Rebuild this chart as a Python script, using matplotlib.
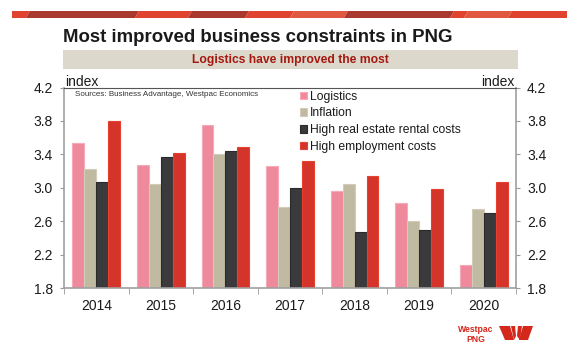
import matplotlib
matplotlib.use("Agg")
import matplotlib.pyplot as plt
from matplotlib.patches import Polygon, Rectangle
import numpy as np

plt.rcParams['font.family'] = ['Liberation Sans', 'DejaVu Sans']

years = ["2014", "2015", "2016", "2017", "2018", "2019", "2020"]
series_names = ["Logistics", "Inflation", "High real estate rental costs", "High employment costs"]
logistics = [3.53, 3.27, 3.75, 3.26, 2.96, 2.82, 2.08]
inflation = [3.22, 3.05, 3.40, 2.77, 3.05, 2.60, 2.74]
real_estate = [3.07, 3.37, 3.44, 3.00, 2.47, 2.49, 2.70]
employment = [3.80, 3.41, 3.49, 3.32, 3.14, 2.99, 3.07]
yticks = [1.8, 2.2, 2.6, 3.0, 3.4, 3.8, 4.2]

fills = ["#ef8a9c", "#c1baa2", "#3a3a3c", "#d4342a"]
edges = ["#f5aab6", "#d2ccb8", "#2a2a2c", "#e8402f"]

W, H = 580, 355
fig = plt.figure(figsize=(W / 100, H / 100), dpi=100)

# overlay in pixel coords
bg = fig.add_axes([0, 0, 1, 1], zorder=0)
bg.set_xlim(0, W)
bg.set_ylim(H, 0)
bg.axis("off")

# top stripe segments (x_start, x_end, color)
segs = [(12, 28, "#e0432f"), (28, 137, "#a9392f"), (137, 190, "#e0432f"),
        (190, 247, "#a9392f"), (247, 292, "#e0432f"), (292, 346, "#e0583f"),
        (346, 452, "#a9392f"), (452, 466, "#e0432f"), (466, 510, "#e0583f"),
        (510, 567, "#e0432f")]
for i, (a, b, c) in enumerate(segs):
    sl = 0 if i == 0 else 2
    sr = 0 if i == len(segs) - 1 else 2
    bg.add_patch(Polygon([(a - sl, 18), (a + sl, 11), (b + sr, 11), (b - sr, 18)],
                         closed=True, facecolor=c, edgecolor="none"))

bg.text(63, 38, "Most improved business constraints in PNG", fontsize=13.4,
        fontweight="bold", color="#1a1a1a", va="center", ha="left")
bg.add_patch(Rectangle((63, 50), 455, 19, facecolor="#dcd9cc", edgecolor="none"))
bg.text(290, 59.5, "Logistics have improved the most", fontsize=8.7,
        fontweight="bold", color="#a5170f", va="center", ha="center")
bg.text(65, 85.5, "index", fontsize=10, color="#1a1a1a", va="baseline", ha="left")
bg.text(514, 85.5, "index", fontsize=10, color="#1a1a1a", va="baseline", ha="right")

# logo text and W mark
bg.text(476, 329, "Westpac", fontsize=6.2, fontweight="bold", color="#d5281c", ha="center", va="center")
bg.text(476, 339, "PNG", fontsize=6.2, fontweight="bold", color="#d5281c", ha="center", va="center")
logo = [
    [(499, 326), (510, 326), (514, 340), (505, 340)],
    [(511, 326), (515, 326), (516, 336), (514, 340)],
    [(518, 326), (522, 326), (520, 340), (517, 336)],
    [(523, 326), (533, 326), (528, 340), (519, 340)],
]
for p in logo:
    bg.add_patch(Polygon(p, closed=True, facecolor="#d5281c", edgecolor="none"))

ax = fig.add_axes([64 / W, 1 - 288 / H, 452 / W, 200.5 / H], zorder=1)
ax.patch.set_alpha(0)
x = np.arange(len(years))
w = 0.185
data = [logistics, inflation, real_estate, employment]
handles = []
for i, vals in enumerate(data):
    hts = [v - 1.8 for v in vals]
    b = ax.bar(x + (i - 1.5) * w, hts, width=w, bottom=1.8, color=fills[i],
               edgecolor=edges[i], linewidth=0.8, label=series_names[i], zorder=2)
    handles.append(b)

ax.set_xlim(-0.5, len(years) - 0.5)
ax.set_ylim(1.8, 4.2)
ax.set_yticks(yticks)
ax.set_yticklabels([f"{v:.1f}" for v in yticks])
ax.set_xticks(x)
ax.set_xticklabels(years)
ax.set_xticks(np.arange(len(years) + 1) - 0.5, minor=True)
ax.tick_params(axis="x", which="major", length=0, labelsize=10, pad=8, colors="#1a1a1a")
ax.tick_params(axis="x", which="minor", length=4, color="#9a9a9a", direction="out")
ax.tick_params(axis="y", which="major", length=3, color="#9a9a9a", labelsize=10,
               pad=5, labelcolor="#1a1a1a", left=True, right=True, labelleft=True, labelright=True)
for s in ["left", "right", "bottom"]:
    ax.spines[s].set_color("#a0a0a0")
    ax.spines[s].set_linewidth(1.2)
ax.spines["top"].set_color("#555555")
ax.spines["top"].set_linewidth(0.8)

ax.text(0.025, 0.965, "Sources: Business Advantage, Westpac Economics", transform=ax.transAxes,
        fontsize=5.75, color="#333333", va="center", ha="left")

leg = ax.legend(handles=handles, loc="upper left", bbox_to_anchor=(233 / 452, 1.0),
                frameon=False, fontsize=8.7, handlelength=0.55, handleheight=0.55,
                handletextpad=0.3, labelspacing=0.4, borderaxespad=0.0, borderpad=0.25)
for t in leg.get_texts():
    t.set_color("#1a1a1a")

fig.savefig("out.png", dpi=100)
